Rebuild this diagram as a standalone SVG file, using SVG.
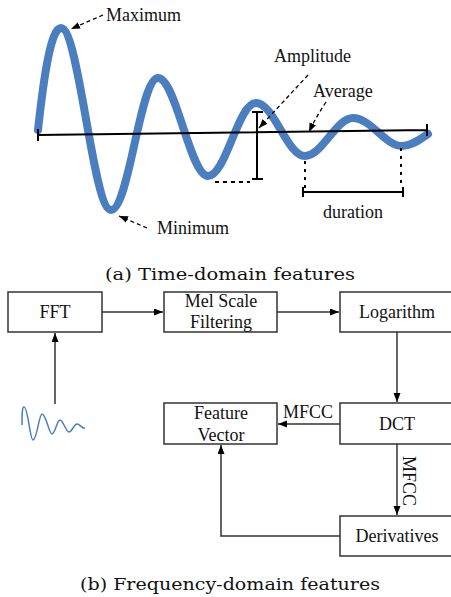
<svg xmlns="http://www.w3.org/2000/svg" width="451" height="597" viewBox="0 0 451 597" font-family="'Liberation Serif', 'Times New Roman', serif">
<defs>
<marker id="ah" markerUnits="userSpaceOnUse" markerWidth="10" markerHeight="8" refX="9" refY="3.5" orient="auto">
<path d="M0,0 L9,3.5 L0,7 z" fill="#000"/>
</marker>
<style>
.lbl{font-family:'Liberation Serif','Times New Roman',serif;font-size:18px;fill:#111;}
.cap{font-family:'DejaVu Serif',serif;font-size:17px;fill:#111;}
.box{fill:#fff;stroke:#333;stroke-width:1.5;}
.conn{fill:none;stroke:#333;stroke-width:1.5;marker-end:url(#ah);}
.dash{fill:none;stroke:#000;stroke-width:1.3;stroke-dasharray:4,3;marker-end:url(#ah);}
.blk{fill:none;stroke:#000;stroke-width:2;}
</style>
</defs>
<rect width="451" height="597" fill="#fff"/>

<g id="time-domain">
<path d="M38,130 C44,75 51,28 61,28 C79,28 93,210 111,210 C129,210 140,78 158,78 C176,78 190,176 208,176 C226,176 238,103 256,103 C274,103 287,156 305,156 C322,156 336,118 353,118 C371,118 385,146 402,146 C412,146 420,139 428,134" fill="none" stroke="#4a7ebf" stroke-width="8" stroke-linecap="round"/>
<path class="blk" d="M38,135 L427,130 M38,129 V141 M427,124 V136"/>
<path class="blk" d="M257,112 V179 M252,112 H263 M252,179 H263"/>
<path d="M215,182 H250" fill="none" stroke="#000" stroke-width="2" stroke-dasharray="4,4"/>
<path d="M305,161 V190 M401,148 V188" fill="none" stroke="#000" stroke-width="2" stroke-dasharray="3,5"/>
<path class="blk" d="M303,192 H403 M303,187 V197 M403,187 V197"/>
<path class="dash" d="M103,15 L71,29"/>
<path class="dash" d="M147,228 L119,216"/>
<path class="dash" d="M308,75 L259,128"/>
<path class="dash" d="M326,102 Q316,117 309,132"/>
<text class="lbl" x="106" y="21" font-family="Liberation Serif, serif">Maximum</text>
<text class="lbl" x="157" y="234" font-family="Liberation Serif, serif">Minimum</text>
<text class="lbl" x="274" y="62" font-family="Liberation Serif, serif">Amplitude</text>
<text class="lbl" x="313" y="97" font-family="Liberation Serif, serif">Average</text>
<text class="lbl" x="323" y="218" font-family="Liberation Serif, serif">duration</text>
<text class="cap" x="105" y="280" textLength="250" lengthAdjust="spacingAndGlyphs">(a) Time-domain features</text>
</g>

<g id="fft">
<rect class="box" x="8" y="292" width="94" height="40"/>
<text class="lbl" x="55" y="318" text-anchor="middle">FFT</text>
</g>
<g id="mel">
<rect class="box" x="164" y="292" width="113" height="40"/>
<text class="lbl" x="221" y="307" text-anchor="middle">Mel Scale</text>
<text class="lbl" x="221" y="328" text-anchor="middle">Filtering</text>
</g>
<g id="log">
<rect class="box" x="340" y="292" width="115" height="40"/>
<text class="lbl" x="397" y="318" text-anchor="middle">Logarithm</text>
</g>
<g id="featvec">
<rect class="box" x="164" y="403" width="113" height="41"/>
<text class="lbl" x="221" y="419" text-anchor="middle">Feature</text>
<text class="lbl" x="221" y="441" text-anchor="middle">Vector</text>
</g>
<g id="dct">
<rect class="box" x="340" y="403" width="115" height="41"/>
<text class="lbl" x="397" y="430" text-anchor="middle">DCT</text>
</g>
<g id="deriv">
<rect class="box" x="340" y="516" width="115" height="40"/>
<text class="lbl" x="397" y="542" text-anchor="middle">Derivatives</text>
</g>
<g id="signal">
<path d="M22,425 C22,415 22,407 24,407 C28,407 30,440 33,440 C37,440 39,414 42,414 C46,414 49,434 52,434 C55,434 57,420 60,420 C63,420 66,432 69,432 C72,432 74,424 77,424 C80,424 82,429 85,428" fill="none" stroke="#4a7ebf" stroke-width="1.5"/>
</g>

<g id="connectors">
<path class="conn" d="M102,312 H163"/>
<path class="conn" d="M277,312 H339"/>
<path class="conn" d="M397,332 V402"/>
<path class="conn" d="M340,424 H278"/>
<path class="conn" d="M397,444 V515"/>
<path class="conn" d="M340,536 H221 V445"/>
<path class="conn" d="M55,404 V333"/>
<text class="lbl" x="308" y="418" text-anchor="middle">MFCC</text>
<text class="lbl" transform="translate(403,481) rotate(90)" text-anchor="middle">MFCC</text>
</g>

<text class="cap" x="80" y="590" textLength="300" lengthAdjust="spacingAndGlyphs">(b) Frequency-domain features</text>
</svg>
